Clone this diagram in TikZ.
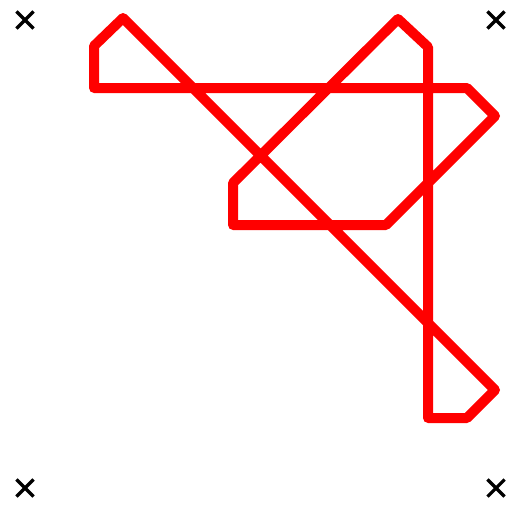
\documentclass[tikz,border=0pt]{standalone}
\usepackage{tikz}
\usetikzlibrary{shapes.misc}

\begin{document}
\begin{tikzpicture}[
    x=1pt, y=-1pt,
    crossmark/.style={cross out, draw, line width=3.2pt, minimum size=14pt, inner sep=0pt},
    redline/.style={draw=red, line width=10pt, line join=round}
]
    \useasboundingbox (0,0) rectangle (519,504);

    % Corner marks
    \node[crossmark] (nw) at (25,20) {};
    \node[crossmark] (ne) at (496,20) {};
    \node[crossmark] (sw) at (25,488) {};
    \node[crossmark] (se) at (496,488) {};

    % Vertices
    \coordinate (p1) at (123,18);
    \coordinate (p2) at (94,46);
    \coordinate (p3) at (94,88);
    \coordinate (p4) at (467,88);
    \coordinate (p5) at (495,116);
    \coordinate (p6) at (386,225);
    \coordinate (p7) at (233,225);
    \coordinate (p8) at (233,183);
    \coordinate (p9) at (398,19);
    \coordinate (p10) at (428,47);
    \coordinate (p11) at (428,418);
    \coordinate (p12) at (467,418);
    \coordinate (p13) at (495,390);

    % Closed path
    \draw[redline] (p1) -- (p2) -- (p3) -- (p4) -- (p5) -- (p6) -- (p7)
        -- (p8) -- (p9) -- (p10) -- (p11) -- (p12) -- (p13) -- cycle;

\end{tikzpicture}
\end{document}
